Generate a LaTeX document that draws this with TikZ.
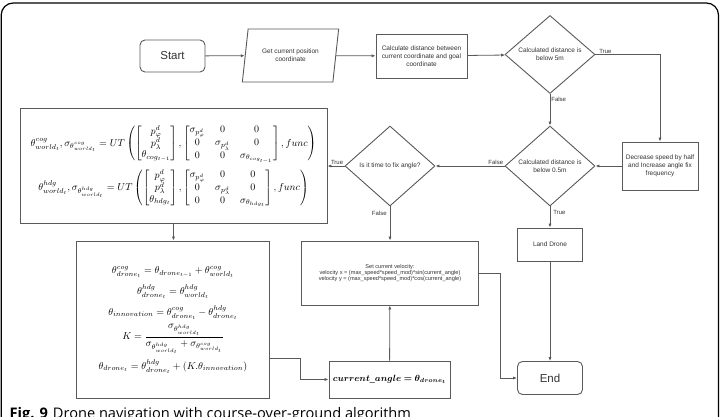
\documentclass[tikz,border=0pt]{standalone}
\usepackage{amsmath,amssymb}
\usepackage{bm}
\usepackage{fontspec}
\setmainfont{Liberation Sans}
\newfontfamily\capfont{Open Sans}
\usetikzlibrary{shapes.geometric,arrows.meta,calc}
\definecolor{linec}{HTML}{5A5A5A}
\definecolor{txtc}{HTML}{333333}
\begin{document}
\begin{tikzpicture}[x=1pt,y=-1pt,
  box/.style={draw=linec, line width=0.9pt, fill=white, inner sep=2pt, align=center,
    text=txtc, font=\fontsize{6.5}{7.8}\selectfont},
  term/.style={box, rounded corners=5pt, font=\fontsize{11.5}{13}\selectfont},
  dec/.style={box, diamond, inner sep=0pt, minimum width=90, minimum height=80},
  para/.style={box, trapezium, trapezium left angle=76, trapezium right angle=104,
    trapezium stretches=true},
  flow/.style={draw=linec, line width=0.8pt, -{Latex[length=4pt,width=3.2pt]}},
  lbl/.style={font=\fontsize{6}{7}\selectfont, text=txtc, inner sep=1pt},
  mathbox/.style={box, text=black}
]
\useasboundingbox (0,0) rectangle (721,416);
\fill[white] (0,0) rectangle (721,416);
% frame
\draw[black, line width=1.2pt, rounded corners=12pt] (1.2,425) -- (1.2,3) -- (718.5,3) -- (718.5,425);

% nodes
\node[term, minimum width=65, minimum height=32] (start) at (172.5,56) {Start};
\node[para, minimum width=97, minimum height=53] (get) at (290.5,55.5) {Get current position\\coordinate};
\node[box, minimum width=91, minimum height=44] (calc) at (421.5,56) {Calculate distance between\\current coordinate and goal\\coordinate};
\node[dec, minimum height=78] (d1) at (550,54.5) {Calculated distance is\\below 5m};
\node[box, minimum width=76, minimum height=48] (dec) at (660,166) {Decrease speed by half\\and Increase angle fix\\frequency};
\node[dec] (d2) at (550,166) {Calculated distance is\\below 0.5m};
\node[dec] (d3) at (390,166) {Is it time to fix angle?};
\node[mathbox, minimum width=307, minimum height=115, inner sep=0pt, font=\fontsize{9.8}{11.5}\selectfont] (ut) at (173.5,165.5) {%
$\begin{gathered}
\theta^{cog}_{world_t},\sigma_{\theta^{cog}_{world_t}} = UT\left(\begin{bmatrix} p^d_\varphi\\ p^d_\lambda\\ \theta_{cog_{t-1}}\end{bmatrix},\begin{bmatrix}\sigma_{p^d_\varphi} & 0 & 0\\ 0 & \sigma_{p^d_\lambda} & 0\\ 0 & 0 & \sigma_{\theta_{cog_{t-1}}}\end{bmatrix},func\right)\\[2pt]
\theta^{hdg}_{world_t},\sigma_{\theta^{hdg}_{world_t}} = UT\left(\begin{bmatrix} p^d_\varphi\\ p^d_\lambda\\ \theta_{hdg_t}\end{bmatrix},\begin{bmatrix}\sigma_{p^d_\varphi} & 0 & 0\\ 0 & \sigma_{p^d_\lambda} & 0\\ 0 & 0 & \sigma_{\theta_{hdg_t}}\end{bmatrix},func\right)
\end{gathered}$};
\node[mathbox, minimum width=193, minimum height=157, inner sep=0pt, font=\fontsize{9.8}{11.5}\selectfont] (eq) at (173,319.5) {%
$\begin{gathered}
\theta^{cog}_{drone_t} = \theta_{drone_{t-1}} + \theta^{cog}_{world_t}\\[3pt]
\theta^{hdg}_{drone_t} = \theta^{hdg}_{world_t}\\[3pt]
\theta_{innovation} = \theta^{cog}_{drone_t} - \theta^{hdg}_{drone_t}\\[1pt]
K = \dfrac{\sigma_{\theta^{hdg}_{world_t}}}{\sigma_{\theta^{hdg}_{world_t}} + \sigma_{\theta^{cog}_{world_t}}}\\[2pt]
\theta_{drone_t} = \theta^{hdg}_{drone_t} + (K.\theta_{innovation})
\end{gathered}$};
\node[box, minimum width=177, minimum height=64, font=\fontsize{5.6}{6.4}\selectfont] (vel) at (390,273) {Set current velocity:\\velocity x = (max\_speed*speed\_mod)*sin(current\_angle)\\velocity y = (max\_speed*speed\_mod)*cos(current\_angle)};
\node[mathbox, minimum width=121, minimum height=37, font=\fontsize{9}{11}\selectfont] (ca) at (389.5,379.5) {$\bm{current\_angle = \theta_{drone_t}}$};
\node[box, minimum width=65, minimum height=33] (land) at (550,244.5) {Land Drone};
\node[term, minimum width=65, minimum height=33] (end) at (550,378) {End};

% connectors
\draw[flow] (start) -- (get);
\draw[flow] (get) -- (calc);
\draw[flow] (calc) -- (d1);
\draw[flow] (d1.east) -| (dec.north) node[lbl, pos=0.02, anchor=south west] {True};
\draw[flow] (d1.south) -- (d2.north) node[lbl, pos=0.05, anchor=north west] {False};
\draw[flow] (dec.west) -- (d2.east);
\draw[flow] (d2.west) -- (d3.east) node[lbl, pos=0.0, anchor=south east] {False};
\draw[flow] (d3.west) -- (d3.west -| ut.east) node[lbl, pos=0.0, anchor=south east] {True};
\draw[flow] (ut.south) -- (ut.south |- eq.north);
\draw[flow] (d3.south) -- (vel.north) node[lbl, pos=0.1, anchor=north east, xshift=-2pt] {False};
\draw[flow] (d2.south) -- (land.north) node[lbl, pos=0.1, anchor=north west, xshift=2pt] {True};
\draw[flow] (land) -- (end);
\draw[flow] (ca) -- (vel);
\draw[flow] ($(eq.east)+(0,38.5)$) -- ++(30.5,0) |- (ca.west);
\draw[flow] (vel.east) -- ++(21,0) |- (end.west);

% caption
\node[anchor=base west, inner sep=0pt, font=\capfont\fontsize{14.6}{16}\selectfont, text=black] (cap) at (9.5,418.5) {\textbf{Fig. 9}\hspace{5pt}Drone navigation with course-over-ground algorithm};
\end{tikzpicture}
\end{document}
